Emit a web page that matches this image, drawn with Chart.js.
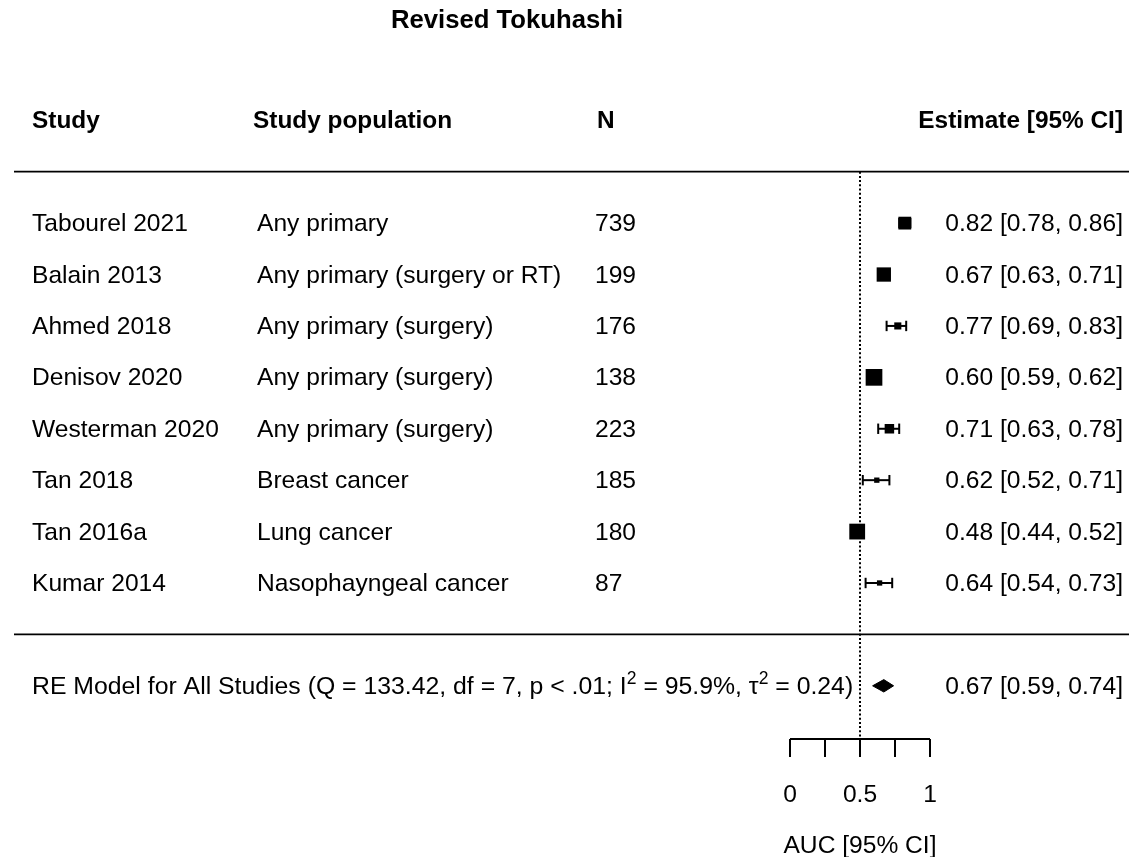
<!DOCTYPE html>
<html>
<head>
<meta charset="utf-8">
<script src="https://cdn.jsdelivr.net/npm/chart.js@4.4.1/dist/chart.umd.min.js"></script>
<style>
  html, body { margin: 0; padding: 0; background: #ffffff; }
  #wrap { width: 1129px; height: 857px; position: relative; }
</style>
</head>
<body>
<div id="wrap"><canvas id="c"></canvas></div>
<script>
// ---------- data ----------
const chartTitle = 'Revised Tokuhashi';
const headers = ['Study', 'Study population', 'N', 'Estimate [95% CI]'];
const studies = ['Tabourel 2021', 'Balain 2013', 'Ahmed 2018', 'Denisov 2020',
                 'Westerman 2020', 'Tan 2018', 'Tan 2016a', 'Kumar 2014'];
const populations = ['Any primary', 'Any primary (surgery or RT)', 'Any primary (surgery)',
                     'Any primary (surgery)', 'Any primary (surgery)', 'Breast cancer',
                     'Lung cancer', 'Nasophayngeal cancer'];
const sampleSizes = [739, 199, 176, 138, 223, 185, 180, 87];
const estimates = [0.82, 0.67, 0.77, 0.60, 0.71, 0.62, 0.48, 0.64];
const ciLower   = [0.78, 0.63, 0.69, 0.59, 0.63, 0.52, 0.44, 0.54];
const ciUpper   = [0.86, 0.71, 0.83, 0.62, 0.78, 0.71, 0.52, 0.73];
const weights   = [12.9, 13.4, 11.0, 14.2, 11.8, 10.4, 13.9, 10.4];
const pooledLabel = 'RE Model for All Studies';
const pooledEstimate = [0.67, 0.59, 0.74]; // estimate, lower, upper
const heterogeneity = [133.42, 7, '< .01', 95.9, 0.24]; // Q, df, p, I^2 (%), tau^2
const axisTicks = [0, 0.25, 0.5, 0.75, 1];
const axisTickLabels = ['0', '', '0.5', '', '1'];
const axisTitle = 'AUC [95% CI]';
const refLine = 0.5;

// ---------- layout (data-unit coordinates) ----------
const nStudies = studies.length;
const rowOf = i => nStudies - i;          // 8 .. 1
const headerRow = nStudies + 2;           // 10
const topRule = nStudies + 1;             // 9
const bottomRule = 0;
const pooledRow = -1;
const axisRow = -2.037;
const X_MIN = -790 / 140, X_MAX = 339 / 140;
const Y_MIN = -4.33, Y_MAX = 12.34;

const wMin = Math.min(...weights), wMax = Math.max(...weights);
const boxSide = w => 5.3 + (w - wMin) / (wMax - wMin) * 11.4;

const black = '#000000';
const datasets = [];

// squares
datasets.push({
  data: estimates.map((e, i) => ({ x: e, y: rowOf(i) })),
  showLine: false,
  pointStyle: 'rect',
  pointRadius: weights.map(w => boxSide(w) / Math.SQRT2),
  pointBackgroundColor: black,
  pointBorderWidth: 0,
  pointBorderColor: black
});
// CI whiskers
estimates.forEach((e, i) => {
  datasets.push({
    data: [{ x: ciLower[i], y: rowOf(i) }, { x: ciUpper[i], y: rowOf(i) }],
    borderColor: black, borderWidth: 2,
    pointStyle: 'line', pointRotation: 90, pointRadius: 5.2,
    pointBorderWidth: 2, pointBorderColor: black, pointBackgroundColor: black
  });
});
// pooled diamond
const dh = 6.2 / 51.4;
datasets.push({
  data: [
    { x: pooledEstimate[1], y: pooledRow },
    { x: pooledEstimate[0], y: pooledRow + dh },
    { x: pooledEstimate[2], y: pooledRow },
    { x: pooledEstimate[0], y: pooledRow - dh },
    { x: pooledEstimate[1], y: pooledRow }
  ],
  borderColor: black, borderWidth: 1, backgroundColor: black,
  fill: 'shape', pointRadius: 0, tension: 0
});
// reference dotted line
datasets.push({
  data: [{ x: refLine, y: topRule }, { x: refLine, y: axisRow }],
  borderColor: black, borderWidth: 2, borderDash: [2, 2.2], pointRadius: 0
});
// horizontal rules
[topRule, bottomRule].forEach(r => {
  datasets.push({
    data: [{ x: (14 - 790) / 140, y: r }, { x: X_MAX, y: r }],
    borderColor: black, borderWidth: 1.8, pointRadius: 0
  });
});

const FONT = '"Liberation Sans", Arial, Helvetica, sans-serif';

const textPlugin = {
  id: 'forestText',
  afterDatasetsDraw(chart) {
    const ctx = chart.ctx;
    const xs = chart.scales.x, ys = chart.scales.y;
    const px = v => xs.getPixelForValue(v);
    const py = v => ys.getPixelForValue(v);
    const colStudy = (32 - 790) / 140;
    const colPop = (257 - 790) / 140, colPopH = (253 - 790) / 140;
    const colN = (595 - 790) / 140, colNH = (597 - 790) / 140;
    const colEst = (1123 - 790) / 140;
    ctx.save();
    ctx.fillStyle = black;
    ctx.textBaseline = 'alphabetic';
    const txt = (s, x, y, align, font) => {
      ctx.font = font; ctx.textAlign = align; ctx.fillText(s, x, y);
    };
    const reg = '24.6px ' + FONT, bold = 'bold 24.4px ' + FONT;
    // title
    txt(chartTitle, 507, 28, 'center', 'bold 25.7px ' + FONT);
    // headers
    const hy = py(headerRow) + 8;
    txt(headers[0], px(colStudy), hy, 'left', bold);
    txt(headers[1], px(colPopH), hy, 'left', bold);
    txt(headers[2], px(colNH), hy, 'left', bold);
    txt(headers[3], px(colEst), hy, 'right', bold);
    // rows
    studies.forEach((s, i) => {
      const y = py(rowOf(i)) + 8;
      txt(s, px(colStudy), y, 'left', reg);
      txt(populations[i], px(colPop), y, 'left', reg);
      txt(String(sampleSizes[i]), px(colN), y, 'left', reg);
      txt(estimates[i].toFixed(2) + ' [' + ciLower[i].toFixed(2) + ', ' + ciUpper[i].toFixed(2) + ']',
          px(colEst), y, 'right', reg);
    });
    // pooled row with superscripts
    const ry = py(pooledRow) + 8;
    const parts = [
      [pooledLabel + ' (Q = ' + heterogeneity[0].toFixed(2) + ', df = ' + heterogeneity[1] +
        ', p ' + heterogeneity[2] + '; I', false],
      ['2', true],
      [' = ' + heterogeneity[3].toFixed(1) + '%, \u03C4', false],
      ['2', true],
      [' = ' + heterogeneity[4].toFixed(2) + ')', false]
    ];
    let cx = px(colStudy);
    ctx.textAlign = 'left';
    parts.forEach(([s, sup]) => {
      ctx.font = sup ? '17.5px ' + FONT : '24.8px ' + FONT;
      ctx.fillText(s, cx, sup ? ry - 10 : ry);
      cx += ctx.measureText(s).width;
    });
    txt(pooledEstimate[0].toFixed(2) + ' [' + pooledEstimate[1].toFixed(2) + ', ' + pooledEstimate[2].toFixed(2) + ']',
        px(colEst), ry, 'right', reg);
    // x axis
    const ay = py(axisRow);
    ctx.strokeStyle = black;
    ctx.lineWidth = 2;
    ctx.beginPath();
    ctx.moveTo(px(axisTicks[0]), ay);
    ctx.lineTo(px(axisTicks[axisTicks.length - 1]), ay);
    axisTicks.forEach(t => { ctx.moveTo(px(t), ay); ctx.lineTo(px(t), ay + 18); });
    ctx.stroke();
    axisTicks.forEach((t, i) => {
      if (axisTickLabels[i]) txt(axisTickLabels[i], px(t), ay + 63, 'center', reg);
    });
    txt(axisTitle, px(refLine), ay + 114, 'center', reg);
    ctx.restore();
  }
};

new Chart(document.getElementById('c'), {
  type: 'line',
  data: { datasets },
  options: {
    responsive: true,
    maintainAspectRatio: false,
    animation: false,
    layout: { padding: 0, autoPadding: false },
    plugins: { legend: { display: false }, tooltip: { enabled: false }, title: { display: false } },
    elements: { line: { tension: 0 } },
    scales: {
      x: { type: 'linear', min: X_MIN, max: X_MAX, display: false },
      y: { type: 'linear', min: Y_MIN, max: Y_MAX, display: false }
    }
  },
  plugins: [textPlugin]
});
</script>
</body>
</html>
